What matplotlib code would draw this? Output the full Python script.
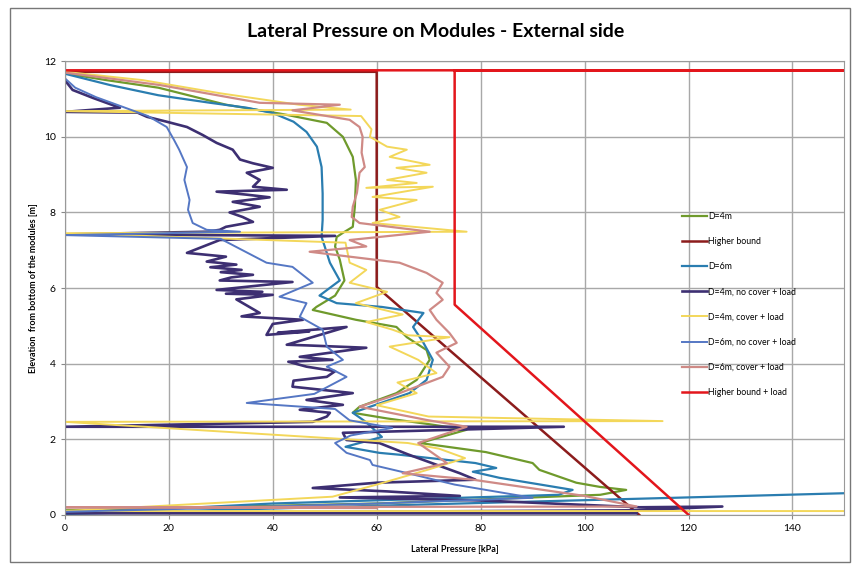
import matplotlib
matplotlib.use("Agg")
import matplotlib.pyplot as plt
from matplotlib.patches import Rectangle

plt.rcParams['font.family'] = ['Lato', 'DejaVu Sans']

# D=4m
d4_x = [0, 8, 18, 31, 42, 50.4, 53.5, 55.4, 56, 55.8, 55.4, 53.5, 52.3, 52, 52.9, 53.8, 52,
        48.4, 47.7, 56, 63.8, 65.8, 69.6, 70.2, 67.7, 63.8, 56.7, 55.4, 62, 70, 77.3, 68.3,
        81, 90, 91.3, 98.4, 102.9, 108, 103, 60, 0]
d4_y = [11.68, 11.5, 11.3, 10.85, 10.6, 10.37, 10.0, 9.47, 8.86, 8.15, 7.62, 7.46, 7.35, 7.1,
        6.75, 6.2, 5.8, 5.5, 5.42, 5.16, 4.97, 4.7, 4.36, 4.1, 3.57, 3.22, 2.86, 2.7, 2.55, 2.4,
        2.25, 1.9, 1.66, 1.37, 1.19, 0.85, 0.74, 0.66, 0.53, 0.3, 0.12]

# Higher bound
hb_x = [0, 60, 60, 110.5]
hb_y = [11.72, 11.72, 6.03, 0]

# D=6m
d6_x = [0, 8.7, 18, 28, 35, 40, 44, 46.5, 48.5, 49.4, 49.6, 49.6, 49.4, 50, 51, 52.9, 49,
        52.3, 61, 69, 67, 69, 70.8, 69.6, 66.3, 62.5, 55.4, 58, 61, 54, 60.5, 64.4, 79, 83,
        78.5, 83.6, 97.7, 95, 40, 0, 155]
d6_y = [11.67, 11.37, 11.1, 10.9, 10.77, 10.63, 10.4, 10.13, 9.74, 9.2, 8.5, 7.8, 7.35, 7.1,
        6.67, 6.2, 5.8, 5.6, 5.5, 5.34, 4.97, 4.55, 4.1, 3.57, 3.22, 3.04, 2.7, 2.45, 2.06,
        1.8, 1.64, 1.59, 1.37, 1.24, 1.14, 0.98, 0.66, 0.53, 0.3, 0.02, 0.59]

# D=4m, no cover + load
d4nc_x = [0, 1.5, 5.4, 10.6, 0, 14, 15.8, 19.6, 23.5, 26.5, 29.2, 32.3, 33.7, 36.2, 40, 35,
          37.5, 36.2, 42.7, 29.2, 35, 39.4, 32.3, 37.5, 31.7, 34.2, 36.2, 31, 29.8, 27.3, 0,
          52, 29.8, 23.5, 31, 27.3, 33, 28, 34, 30, 36.2, 32, 29.8, 43.8, 29.2, 38, 31, 40,
          33, 37.5, 34, 45.8, 40, 38.8, 47, 41, 54.2, 42.7, 47, 58, 45.2, 51.5, 43, 46.5,
          52, 50.4, 44, 43.8, 55.4, 46.5, 53.5, 45.2, 51, 50.4, 47.7, 0, 96, 53.5, 54.2,
          60.5, 66, 72, 76, 79, 60, 47.7, 62, 76, 52.9, 80, 110.6, 126.5, 110, 0, 110]
d4nc_y = [11.5, 11.24, 11.03, 10.77, 10.66, 10.64, 10.53, 10.4, 10.26, 10.05, 9.84, 9.66,
          9.4, 9.3, 9.18, 9.05, 8.86, 8.68, 8.6, 8.55, 8.47, 8.4, 8.28, 8.15, 8.0, 7.88, 7.75,
          7.62, 7.54, 7.49, 7.42, 7.38, 7.27, 6.93, 6.83, 6.7, 6.62, 6.55, 6.48, 6.42, 6.35,
          6.28, 6.2, 6.16, 5.95, 5.9, 5.85, 5.82, 5.7, 5.34, 5.25, 5.16, 5.05, 4.76, 4.85,
          4.82, 4.97, 4.5, 4.48, 4.42, 4.18, 4.1, 4.05, 3.92, 3.8, 3.65, 3.55, 3.39, 3.22,
          3.04, 2.91, 2.78, 2.7, 2.6, 2.46, 2.33, 2.33, 2.17, 1.98, 1.9, 1.6, 1.3, 1.1, 0.93,
          0.85, 0.71, 0.62, 0.5, 0.46, 0.38, 0.2, 0.22, 0.12, 0.04, 0.04]

# D=4m, cover + load
d4c_x = [0, 15, 30, 45, 55, 0, 57, 59, 58.7, 62, 65.8, 62.5, 70.2, 63.8, 69.6, 62, 67.7, 58,
         70.8, 59.2, 67.7, 60.6, 64.4, 59.2, 77.3, 0, 54, 54.8, 58, 54.8, 62, 56, 65, 58, 63,
         66, 74, 62.5, 68, 71.5, 64, 67.7, 60, 70, 115, 0, 66, 72, 77, 70, 60, 51.5, 0, 155]
d4c_y = [11.72, 11.5, 11.15, 10.85, 10.72, 10.68, 10.55, 10.2, 10.0, 9.74, 9.66, 9.47, 9.26,
         9.18, 9.05, 8.86, 8.78, 8.65, 8.68, 8.41, 8.33, 8.07, 7.88, 7.72, 7.49, 7.45, 7.2,
         6.67, 6.48, 6.14, 5.9, 5.6, 5.3, 5.1, 4.9, 4.75, 4.7, 4.45, 4.1, 3.75, 3.5, 3.22,
         2.9, 2.6, 2.48, 2.46, 1.9, 1.75, 1.5, 1.2, 0.8, 0.48, 0.1, 0.1]

# D=6m, no cover + load
d6nc_x = [0, 2, 6, 11, 16, 19.6, 21, 22, 23.5, 23, 24, 23.7, 24.6, 27.3, 33.7, 0, 30, 38.8,
          43.8, 47.7, 41.3, 46.5, 45.2, 49.6, 50.4, 53.5, 50.4, 54.2, 48, 35, 52, 54.8, 63,
          55, 52, 54.2, 58.7, 59.2, 66, 75, 90, 60, 20, 0]
d6nc_y = [11.55, 11.3, 11.05, 10.8, 10.55, 10.26, 9.92, 9.66, 9.2, 8.86, 8.33, 8.07, 7.72,
          7.54, 7.49, 7.4, 7.3, 6.67, 6.56, 6.14, 5.77, 5.6, 5.24, 4.9, 4.45, 4.1, 3.92, 3.65,
          3.2, 2.96, 2.8, 2.5, 2.3, 2.1, 1.9, 1.64, 1.45, 1.32, 1.1, 0.8, 0.45, 0.3, 0.15,
          0.08]

# D=6m, cover + load
d6c_x = [0, 18.3, 37.5, 52.9, 43.8, 54.8, 56.7, 57.3, 57.1, 57.7, 56.7, 56.2, 55.4, 55.2,
         56.7, 70.2, 54.8, 58, 47.1, 54.8, 64.4, 69.6, 72.7, 71.5, 72.7, 70.2, 71.5, 74, 75.4,
         71.5, 74, 72.7, 67.7, 62.5, 56.7, 69.6, 77.3, 68, 73.5, 65, 78.5, 100, 110, 0, 60]
d6c_y = [11.7, 11.37, 10.9, 10.85, 10.7, 10.45, 10.26, 10.0, 9.58, 9.2, 9.05, 8.52, 8.15,
         7.88, 7.72, 7.49, 7.27, 7.1, 6.96, 6.83, 6.67, 6.4, 6.14, 5.87, 5.69, 5.42, 5.16,
         4.81, 4.55, 4.29, 3.92, 3.65, 3.39, 3.12, 2.86, 2.51, 2.33, 1.9, 1.37, 1.1, 0.93,
         0.5, 0.22, 0.2, 0.18]

# Higher bound + load
hbl_x = [0, 155, 75, 75, 120]
hbl_y = [11.76, 11.76, 11.76, 5.56, 0]

fig = plt.figure(figsize=(8.53, 5.67), dpi=100)
ax = fig.add_axes([0.076, 0.092, 0.914, 0.8])

ax.plot(d4_x, d4_y, color='#6f9a2c', lw=1.6, label='D=4m')
ax.plot(hb_x, hb_y, color='#8c1c1c', lw=1.8, label='Higher bound')
ax.plot(d6_x, d6_y, color='#2a7db0', lw=1.6, label='D=6m')
ax.plot(d4nc_x, d4nc_y, color='#3d2f72', lw=1.9, label='D=4m, no cover + load')
ax.plot(d4c_x, d4c_y, color='#f3d75a', lw=1.4, label='D=4m, cover + load')
ax.plot(d6nc_x, d6nc_y, color='#5577c4', lw=1.4, label='D=6m, no cover + load')
ax.plot(d6c_x, d6c_y, color='#cf8a86', lw=1.6, label='D=6m, cover + load')
ax.plot(hbl_x, hbl_y, color='#e3161c', lw=1.8, label='Higher bound + load')

ax.set_xlim(0, 150)
ax.set_ylim(0, 12)
ax.set_xticks(range(0, 141, 20))
ax.set_yticks(range(0, 13, 2))
ax.grid(True, color='#a8a8a8', lw=1)
ax.set_axisbelow(True)
ax.tick_params(labelsize=7.5, length=3, color='#888888')
for s in ax.spines.values():
    s.set_color('#999999')

ax.set_xlabel('Lateral Pressure [kPa]', fontsize=6.5, fontweight='bold', labelpad=9)
ax.set_ylabel('Elevation  from bottom of the modules [m]', fontsize=6.5, fontweight='bold')

fig.text(0.511, 0.945, 'Lateral Pressure on Modules - External side',
         fontsize=14, fontweight='bold', ha='center', va='center')

ax.legend(loc='upper left', bbox_to_anchor=(0.786, 0.678), frameon=False, fontsize=6.3,
          handlelength=2.8, handletextpad=0.2, labelspacing=1.85, borderpad=0)

fig.patches.append(Rectangle((0.012, 0.008), 0.985, 0.978, transform=fig.transFigure,
                             fill=False, edgecolor='#777777', lw=1))

fig.savefig('out.png', dpi=100)
